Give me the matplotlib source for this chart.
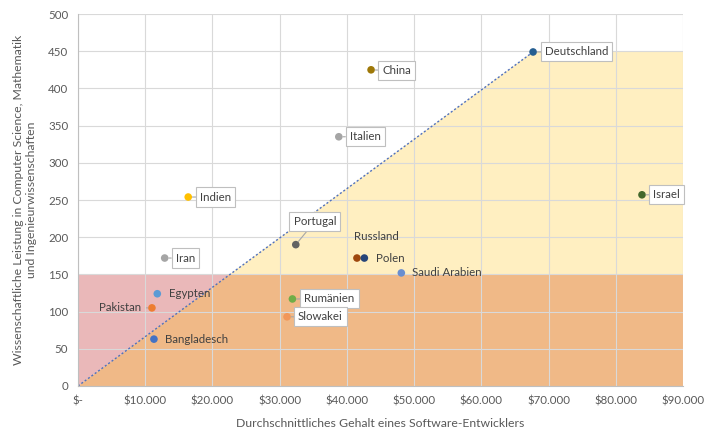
import matplotlib
matplotlib.use("Agg")
import matplotlib.pyplot as plt
import numpy as np

plt.rcParams['font.family'] = ['Lato', 'DejaVu Sans']

countries = ["Deutschland", "China", "Italien", "Indien", "Israel", "Portugal", "Iran",
             "Russland", "Polen", "Saudi Arabien", "Egypten", "Pakistan", "Rumänien",
             "Slowakei", "Bangladesch"]
salary = [67700, 43600, 38800, 16400, 83900, 32400, 12900,
          41500, 42600, 48100, 11800, 11000, 31900, 31100, 11300]
score = [449, 425, 335, 254, 257, 190, 172,
         172, 172, 152, 124, 105, 117, 93, 63]
colors = ["#255E91", "#9E7808", "#A5A5A5", "#FFC000", "#43682B", "#636363", "#A5A5A5",
          "#9E480E", "#264478", "#698ED0", "#5B9BD5", "#ED7D31", "#70AD47", "#F1975A", "#4472C4"]

threshold_low = 150
threshold_high = 450
x_max = 90000
y_max = 500

# label placement: (dx px, dy px, ha, boxed)
label_style = {
    "Deutschland": (12, 0, "left", True),
    "China": (11, -1, "left", True),
    "Italien": (11, 0, "left", True),
    "Indien": (12, 0, "left", True),
    "Israel": (11, 0, "left", True),
    "Portugal": (19, 23, "center", True),
    "Iran": (11, 0, "left", True),
    "Russland": (19, 22, "center", False),
    "Polen": (12, 0, "left", False),
    "Saudi Arabien": (11, 0, "left", False),
    "Egypten": (12, 0, "left", False),
    "Pakistan": (-11, 0, "right", False),
    "Rumänien": (12, 0, "left", True),
    "Slowakei": (11, 0, "left", True),
    "Bangladesch": (11, 0, "left", False),
}

fs = 8.3

fig = plt.figure(figsize=(7.2, 4.45), dpi=100)
ax = fig.add_axes([0.1083, 0.1326, 0.8403, 0.8359])

ref_x = salary[0]
ref_y = score[0]
slope = ref_y / ref_x
x_low = threshold_low / slope
x_high = threshold_high / slope

# regions
ax.fill([0, x_low, 0], [0, threshold_low, threshold_low], color="#EAB8B9", zorder=0.2, lw=0)
ax.fill([0, x_max, x_max, x_low], [0, 0, threshold_low, threshold_low], color="#F0B987", zorder=0.2, lw=0)
ax.fill([x_low, x_max, x_max, x_high], [threshold_low, threshold_low, threshold_high, threshold_high],
        color="#FFEFC1", zorder=0.2, lw=0)

ax.plot([0, ref_x], [0, ref_y], linestyle=(0, (1.5, 1.5)), color="#4F71BE", lw=1.0, zorder=1)

ax.scatter(salary, score, c=colors, s=30, zorder=3, linewidths=0)

for name, x, y in zip(countries, salary, score):
    dx, dy, ha, boxed = label_style[name]
    kw = {}
    if boxed:
        kw["bbox"] = dict(boxstyle="square,pad=0.35", fc="white", ec="#BFBFBF", lw=0.8)
        kw["arrowprops"] = dict(arrowstyle="-", color="#A6A6A6", lw=0.8, shrinkA=0, shrinkB=3)
    elif name == "Pakistan":
        kw["arrowprops"] = dict(arrowstyle="-", color="#A6A6A6", lw=0.8, shrinkA=2, shrinkB=3)
    ax.annotate(name, xy=(x, y), xytext=(dx, dy), textcoords="offset pixels",
                ha=ha, va="center", fontsize=fs, color="#404040", zorder=4, **kw)

ax.set_xlim(0, x_max)
ax.set_ylim(0, y_max)
ax.set_xticks(np.arange(0, x_max + 1, 10000))
ax.set_xticklabels(["$-"] + [f"${int(v/1000)}.000" for v in range(10000, x_max + 1, 10000)])
ax.set_yticks(np.arange(0, y_max + 1, 50))
ax.set_axisbelow(True)
ax.grid(True, color="#D9D9D9", lw=0.8)
ax.tick_params(length=0, labelsize=fs, colors="#595959", pad=7)
for s in ["top", "right"]:
    ax.spines[s].set_visible(False)
for s in ["left", "bottom"]:
    ax.spines[s].set_color("#BFBFBF")
    ax.spines[s].set_linewidth(0.8)

ax.set_xlabel("Durchschnittliches Gehalt eines Software-Entwicklers", fontsize=8.8, color="#595959", labelpad=8)
ax.set_ylabel("Wissenschaftliche Leistung in Computer Science, Mathematik\nund Ingenieurwissenschaften",
              fontsize=8.8, color="#595959", labelpad=8)

fig.savefig("out.png", dpi=100)
